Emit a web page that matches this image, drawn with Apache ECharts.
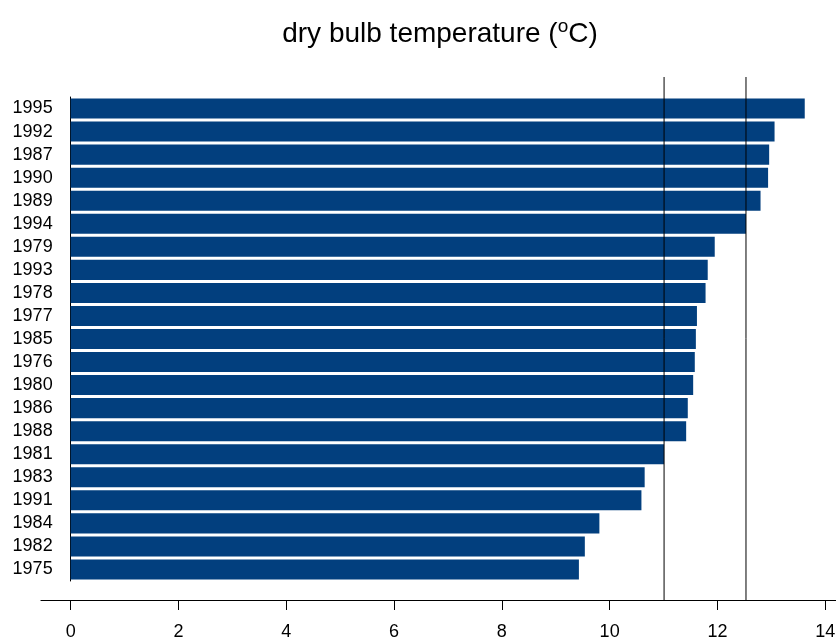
<!DOCTYPE html>
<html>
<head>
<meta charset="utf-8">
<script src="https://cdn.jsdelivr.net/npm/echarts@6/dist/echarts.min.js"></script>
<style>
    html, body { margin: 0; padding: 0; background: #fff; }
    #chart { width: 836px; height: 640px; }
</style>
</head>
<body>
<div id="chart"></div>
<script>
// 数据 (top to bottom)
var years = ['1995', '1992', '1987', '1990', '1989', '1994', '1979', '1993', '1978', '1977', '1985',
             '1976', '1980', '1986', '1988', '1981', '1983', '1991', '1984', '1982', '1975'];
var temps = [13.62, 13.06, 12.96, 12.94, 12.80, 12.53, 11.95, 11.82, 11.78, 11.62, 11.60,
             11.58, 11.55, 11.45, 11.42, 11.01, 10.65, 10.59, 9.81, 9.54, 9.43];
var refLines = [11.01, 12.53];
var xTicks = [0, 2, 4, 6, 8, 10, 12, 14];

var myChart = echarts.init(document.getElementById('chart'));

// bars grid starts at 0, axis grid extends a bit left of 0 (same px per unit)
var xMin = -0.55, xMax = 14.2;
var axisLeft = 41, chartW = 836;
var pxPerUnit = (chartW - axisLeft) / (xMax - xMin);
var barLeft = axisLeft - xMin * pxPerUnit;
var font = 'Liberation Sans, Arial, sans-serif';

var lineSeries = refLines.map(function (v) {
    return {
        type: 'line',
        xAxisIndex: 1,
        yAxisIndex: 1,
        symbol: 'none',
        silent: true,
        lineStyle: { color: '#000', width: 1 },
        data: [[v, 0], [v, 1]]
    };
});

myChart.setOption({
    animation: false,
    title: {
        text: 'dry bulb temperature ({sup|o}C)',
        left: 435,
        top: 12,
        textAlign: 'center',
        textStyle: {
            fontFamily: font,
            fontSize: 28,
            fontWeight: 'normal',
            color: '#000',
            lineHeight: 35,
            rich: {
                sup: { fontFamily: font, fontSize: 19, color: '#000', verticalAlign: 'top', lineHeight: 22 }
            }
        }
    },
    grid: [
        { left: barLeft, right: 0, top: 97, bottom: 59, outerBoundsMode: 'none' },
        { left: axisLeft, right: 0, top: 77, bottom: 40, outerBoundsMode: 'none' }
    ],
    xAxis: [
        { gridIndex: 0, type: 'value', min: 0, max: xMax, show: false },
        {
            gridIndex: 1,
            type: 'value',
            min: xMin,
            max: xMax,
            splitLine: { show: false },
            axisLine: { show: true, lineStyle: { color: '#000', width: 1.2 } },
            axisTick: { show: true, length: 10, customValues: xTicks, lineStyle: { color: '#000' } },
            axisLabel: { customValues: xTicks, margin: 23, fontFamily: font, fontSize: 18, color: '#000' }
        }
    ],
    yAxis: [
        {
            gridIndex: 0,
            type: 'category',
            inverse: true,
            data: years,
            axisLine: { show: true, lineStyle: { color: '#000', width: 1 } },
            axisTick: { show: false },
            axisLabel: { interval: 0, margin: 18, fontFamily: font, fontSize: 18, color: '#000' }
        },
        { gridIndex: 1, type: 'value', min: 0, max: 1, show: false }
    ],
    series: [
        {
            type: 'bar',
            xAxisIndex: 0,
            yAxisIndex: 0,
            data: temps,
            barCategoryGap: '13%',
            itemStyle: { color: '#023f7e' }
        }
    ].concat(lineSeries)
});
</script>
</body>
</html>
